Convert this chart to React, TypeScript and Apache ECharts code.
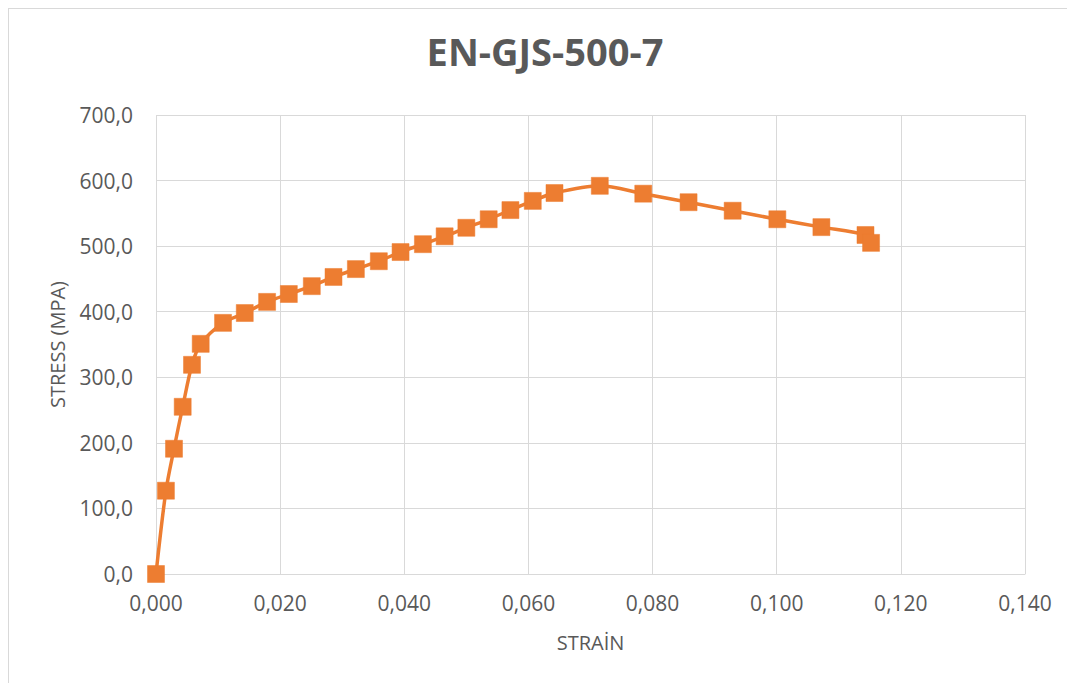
import React, { useEffect, useRef } from "react";
import * as echarts from "echarts";

const strain = [
  0, 0.0016, 0.0029, 0.0043, 0.0058, 0.0072, 0.0108, 0.0143, 0.0179, 0.0214,
  0.0251, 0.0286, 0.0322, 0.0359, 0.0394, 0.043, 0.0465, 0.05, 0.0536, 0.0571,
  0.0607, 0.0642, 0.0715, 0.0785, 0.0858, 0.0929, 0.1001, 0.1072, 0.1143, 0.1152,
];
const stress = [
  0, 127, 191, 255, 319, 351, 383, 398, 415, 427,
  439, 453, 465, 477, 491, 503, 515, 528, 541, 555,
  569, 581, 592, 580, 567, 554, 541, 529, 517, 505,
];
const chartTitle = "EN-GJS-500-7";
const xName = "STRAİN";
const yName = "STRESS (MPA)";

const TEXT = "#595959";
const GRID = "#D9D9D9";
const ORANGE = "#ED7D31";
const FONT = "'Open Sans', 'Noto Sans', sans-serif";

export default function App() {
  const ref = useRef<HTMLDivElement>(null);
  useEffect(() => {
    document.body.style.overflow = "hidden";
    const chart = echarts.init(ref.current!, null, { renderer: "svg" });
    const data = strain.map((x, i) => [x, stress[i]]);
    chart.setOption({
      animation: false,
      backgroundColor: "#ffffff",
      textStyle: { fontFamily: FONT },
      graphic: [
        {
          type: "text",
          x: 536,
          y: 23,
          style: {
            text: chartTitle,
            fill: TEXT,
            font: `bold 38px ${FONT}`,
            textAlign: "center",
            textVerticalAlign: "top",
          },
        },
      ],
      grid: { left: 147, right: 50, top: 106, bottom: 109, containLabel: false },
      xAxis: {
        type: "value",
        min: 0,
        max: 0.14,
        interval: 0.02,
        name: xName,
        nameLocation: "middle",
        nameGap: 58,
        nameTextStyle: { color: TEXT, fontSize: 20, fontFamily: FONT },
        axisLine: { show: true, lineStyle: { color: GRID, width: 1 } },
        axisTick: { show: false },
        splitLine: { show: true, lineStyle: { color: GRID, width: 1 } },
        axisLabel: {
          color: TEXT,
          fontSize: 21,
          fontFamily: FONT,
          margin: 18,
          formatter: (v: number) => v.toFixed(3).replace(".", ","),
        },
      },
      yAxis: {
        type: "value",
        min: 0,
        max: 700,
        interval: 100,
        name: yName,
        nameLocation: "middle",
        nameGap: 89,
        nameTextStyle: { color: TEXT, fontSize: 20, fontFamily: FONT },
        axisLine: { show: false },
        axisTick: { show: false },
        splitLine: { show: true, lineStyle: { color: GRID, width: 1 } },
        axisLabel: {
          color: TEXT,
          fontSize: 21,
          fontFamily: FONT,
          margin: 23,
          formatter: (v: number) => v.toFixed(1).replace(".", ","),
        },
      },
      series: [
        {
          type: "line",
          data,
          smooth: 0.3,
          symbol: "rect",
          symbolSize: 17,
          showSymbol: true,
          lineStyle: { color: ORANGE, width: 3.5 },
          itemStyle: { color: ORANGE, borderColor: ORANGE, borderWidth: 0.5 },
        },
      ],
    });
    return () => chart.dispose();
  }, []);
  return (
    <div
      ref={ref}
      style={{
        width: 1067,
        height: 675,
        boxSizing: "border-box",
        borderTop: "1px solid #D9D9D9",
        borderLeft: "1px solid #D9D9D9",
      }}
    />
  );
}
